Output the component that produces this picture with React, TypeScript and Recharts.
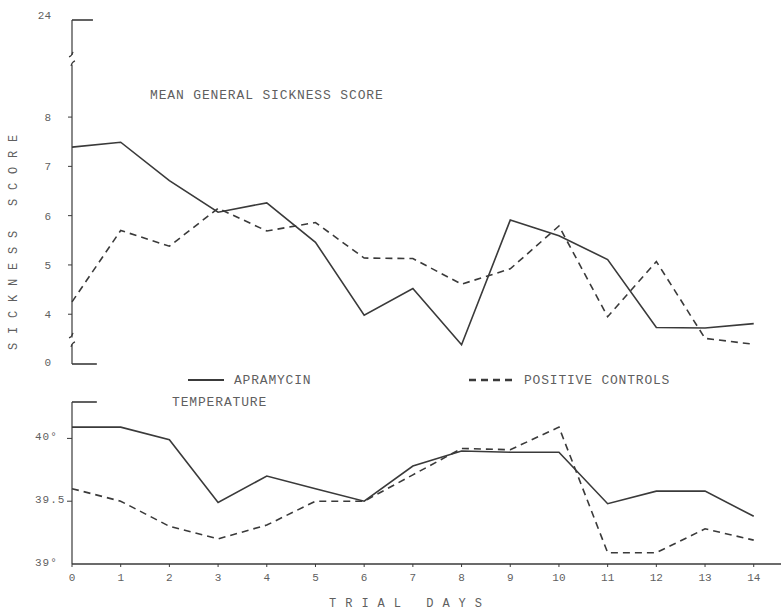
import React from "react";
import { LineChart, Line, XAxis, YAxis, ReferenceLine, Legend } from "recharts";

const FONT = '"Liberation Mono", "DejaVu Sans Mono", monospace';
const INK = "#3a3a3a";
const TEXT = "#5f5f5f";

// trial days
const days = [0, 1, 2, 3, 4, 5, 6, 7, 8, 9, 10, 11, 12, 13, 14];

// mean general sickness score (broken axis units)
const apramycinScore = [7.39, 7.49, 6.71, 6.07, 6.26, 5.46, 3.98, 4.52, 3.38, 5.91, 5.59, 5.11, 3.73, 3.72, 3.81];
const controlScore = [4.25, 5.7, 5.38, 6.15, 5.69, 5.86, 5.14, 5.13, 4.61, 4.92, 5.79, 3.95, 5.07, 3.51, 3.39];

// rectal temperature, deg C
const apramycinTemp = [40.09, 40.09, 39.99, 39.49, 39.7, 39.6, 39.5, 39.78, 39.9, 39.89, 39.89, 39.48, 39.58, 39.58, 39.38];
const controlTemp = [39.6, 39.5, 39.3, 39.2, 39.31, 39.5, 39.5, 39.71, 39.92, 39.91, 40.09, 39.09, 39.09, 39.28, 39.19];

// score axis: 0 and 24 sit at the ends of the broken axis
const scoreTickPositions = [2.99, 4, 5, 6, 7, 8, 9.97];
const scoreTickLabels = ["0", "4", "5", "6", "7", "8", "24"];
const scoreBreaks = [3.46, 9.16];
const scoreAxisPieces = [
  [9.97, 9.26],
  [9.06, 3.53],
  [3.39, 2.99],
];

const tempTicks = [39, 39.5, 40];
const tempTickLabels = ["39°", "39.5", "40°"];

const X_DOMAIN: [number, number] = [0, 14.56];
const SCORE_DOMAIN: [number, number] = [2.99, 9.97];
const TEMP_DOMAIN: [number, number] = [39, 40.29];

const scoreData = days.map((d, i) => ({
  day: d,
  apramycin: apramycinScore[i],
  controls: controlScore[i],
}));

const tempData = days.map((d, i) => ({
  day: d,
  apramycin: apramycinTemp[i],
  controls: controlTemp[i],
}));

const textStyle = { fontFamily: FONT, fill: TEXT };

function ScoreTick(props: any) {
  const { x, y, payload } = props;
  const v = payload.value;
  if (scoreBreaks.includes(v)) {
    // little slashes where the axis is broken
    return (
      <g stroke={INK} strokeWidth={1.2} fill="none">
        <path d={`M ${x - 3} ${y - 3} q 3 -1 4 -5`} />
        <path d={`M ${x - 1} ${y + 6} q 1 -4 4 -5`} />
      </g>
    );
  }
  const idx = scoreTickPositions.indexOf(v);
  const isEnd = idx === 0 || idx === scoreTickPositions.length - 1;
  return (
    <g>
      {!isEnd && <line x1={x - 4} x2={x} y1={y} y2={y} stroke={INK} strokeWidth={1} />}
      <text
        x={x - 21}
        y={y + (idx === scoreTickPositions.length - 1 ? -5 : idx === 0 ? -2 : 0)}
        dy="0.35em"
        textAnchor="end"
        fontSize={11}
        {...textStyle}
      >
        {scoreTickLabels[idx]}
      </text>
    </g>
  );
}

function TempTick(props: any) {
  const { x, y, payload } = props;
  const idx = tempTicks.indexOf(payload.value);
  return (
    <g>
      {idx > 0 && <line x1={x - 5} x2={x} y1={y} y2={y} stroke={INK} strokeWidth={1} />}
      <text x={x - 37} y={y - 2} dy="0.35em" textAnchor="start" fontSize={11} letterSpacing={1} {...textStyle}>
        {tempTickLabels[idx]}
      </text>
    </g>
  );
}

const legendX = [188, 469];

function SeriesLegend(props: any) {
  const items = props.payload || [];
  return (
    <svg width={781} height={20} style={{ display: "block" }}>
      {items.map((entry: any, i: number) => {
        const dashed = !!entry.payload?.strokeDasharray;
        const x0 = legendX[i];
        const len = dashed ? 45 : 36;
        return (
          <g key={entry.value}>
            <line
              x1={x0}
              x2={x0 + len}
              y1={10}
              y2={10}
              stroke={INK}
              strokeWidth={dashed ? 2.6 : 1.8}
              strokeDasharray={dashed ? "7 5" : undefined}
            />
            <text x={x0 + len + 10} y={14} fontSize={13} letterSpacing={0.8} {...textStyle}>
              {entry.value}
            </text>
          </g>
        );
      })}
    </svg>
  );
}

const titleStyle: React.CSSProperties = {
  position: "absolute",
  fontFamily: FONT,
  fontSize: 13,
  letterSpacing: "0.85px",
  lineHeight: "14px",
  color: TEXT,
  whiteSpace: "pre",
};

export default function App() {
  return (
    <div style={{ position: "absolute", left: 0, top: 0, width: 781, height: 615, background: "#fff" }}>
      <LineChart width={781} height={392} data={scoreData} margin={{ top: 20, right: 0, bottom: 28, left: 0 }}>
        <XAxis dataKey="day" type="number" domain={X_DOMAIN} hide />
        <YAxis
          type="number"
          domain={SCORE_DOMAIN}
          ticks={[...scoreTickPositions, ...scoreBreaks].sort((a, b) => a - b)}
          interval={0}
          width={72}
          axisLine={false}
          tickLine={false}
          tickSize={0}
          tickMargin={0}
          tick={<ScoreTick />}
          label={{
            content: () => (
              <text
                transform="translate(17,238) rotate(-90)"
                textAnchor="middle"
                fontSize={12}
                letterSpacing={8.8}
                {...textStyle}
              >
                SICKNESS SCORE
              </text>
            ),
          }}
        />
        {scoreAxisPieces.map(([a, b]) => (
          <ReferenceLine
            key={a}
            segment={[
              { x: 0, y: a },
              { x: 0, y: b },
            ]}
            stroke={INK}
            strokeWidth={1.2}
          />
        ))}
        <ReferenceLine
          segment={[
            { x: 0, y: SCORE_DOMAIN[1] },
            { x: 0.43, y: SCORE_DOMAIN[1] },
          ]}
          stroke={INK}
          strokeWidth={1.6}
        />
        <ReferenceLine
          segment={[
            { x: 0, y: SCORE_DOMAIN[0] },
            { x: 0.51, y: SCORE_DOMAIN[0] },
          ]}
          stroke={INK}
          strokeWidth={1.6}
        />
        <Legend
          layout="horizontal"
          verticalAlign="middle"
          align="center"
          wrapperStyle={{ left: 0, top: 370, width: 781 }}
          content={<SeriesLegend />}
        />
        <Line
          type="linear"
          dataKey="apramycin"
          name="APRAMYCIN"
          stroke={INK}
          strokeWidth={1.6}
          dot={false}
          isAnimationActive={false}
        />
        <Line
          type="linear"
          dataKey="controls"
          name="POSITIVE CONTROLS"
          stroke={INK}
          strokeWidth={1.6}
          strokeDasharray="7 5"
          dot={false}
          isAnimationActive={false}
        />
      </LineChart>

      <LineChart width={781} height={223} data={tempData} margin={{ top: 10, right: 0, bottom: 0, left: 0 }}>
        <XAxis
          dataKey="day"
          type="number"
          domain={X_DOMAIN}
          ticks={days}
          interval={0}
          height={51}
          axisLine={{ stroke: INK, strokeWidth: 1.6 }}
          tickLine={{ stroke: INK }}
          tickSize={3}
          tickMargin={6}
          tick={{ fontSize: 11, fontFamily: FONT, fill: TEXT }}
          label={{
            content: () => (
              <text x={410} y={215} textAnchor="middle" fontSize={12} letterSpacing={9} {...textStyle}>
                TRIAL DAYS
              </text>
            ),
          }}
        />
        <YAxis
          type="number"
          domain={TEMP_DOMAIN}
          ticks={tempTicks}
          interval={0}
          width={72}
          axisLine={{ stroke: INK, strokeWidth: 1.2 }}
          tickLine={false}
          tickSize={0}
          tickMargin={0}
          tick={<TempTick />}
        />
        <ReferenceLine
          segment={[
            { x: 0, y: TEMP_DOMAIN[1] },
            { x: 0.51, y: TEMP_DOMAIN[1] },
          ]}
          stroke={INK}
          strokeWidth={1.6}
        />
        <Line
          type="linear"
          dataKey="apramycin"
          stroke={INK}
          strokeWidth={1.6}
          dot={false}
          isAnimationActive={false}
        />
        <Line
          type="linear"
          dataKey="controls"
          stroke={INK}
          strokeWidth={1.6}
          strokeDasharray="7 5"
          dot={false}
          isAnimationActive={false}
        />
      </LineChart>

      <div style={{ ...titleStyle, left: 150, top: 89 }}>MEAN GENERAL SICKNESS SCORE</div>
      <div style={{ ...titleStyle, left: 172, top: 396 }}>TEMPERATURE</div>
    </div>
  );
}
